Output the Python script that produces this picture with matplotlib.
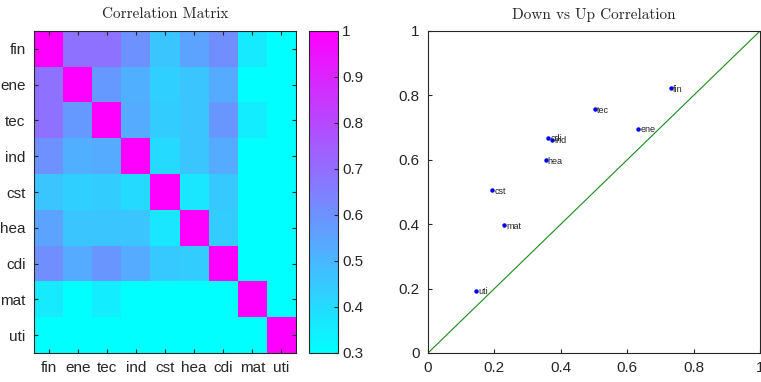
import numpy as np
import matplotlib
matplotlib.use("Agg")
import matplotlib.pyplot as plt
from matplotlib import font_manager

sectors = ["fin", "ene", "tec", "ind", "cst", "hea", "cdi", "mat", "uti"]

# pairwise correlation between sectors (symmetric)
corr = [
    [1.00, 0.69, 0.69, 0.60, 0.46, 0.55, 0.61, 0.36, 0.24],
    [0.69, 1.00, 0.58, 0.52, 0.43, 0.46, 0.53, 0.28, 0.22],
    [0.69, 0.58, 1.00, 0.53, 0.44, 0.46, 0.59, 0.35, 0.21],
    [0.60, 0.52, 0.53, 1.00, 0.40, 0.46, 0.53, 0.27, 0.20],
    [0.46, 0.43, 0.44, 0.40, 1.00, 0.37, 0.45, 0.25, 0.19],
    [0.55, 0.46, 0.46, 0.46, 0.37, 1.00, 0.44, 0.26, 0.18],
    [0.61, 0.53, 0.59, 0.53, 0.45, 0.44, 1.00, 0.27, 0.20],
    [0.36, 0.28, 0.35, 0.27, 0.25, 0.26, 0.27, 1.00, 0.23],
    [0.24, 0.22, 0.21, 0.20, 0.19, 0.18, 0.20, 0.23, 1.00],
]

# correlation in down markets vs up markets
down_corr = [0.731, 0.634, 0.504, 0.373, 0.193, 0.354, 0.362, 0.230, 0.144]
up_corr = [0.824, 0.697, 0.757, 0.663, 0.506, 0.599, 0.669, 0.397, 0.194]

cbar_ticks = [0.3, 0.4, 0.5, 0.6, 0.7, 0.8, 0.9, 1.0]
cbar_labels = ["0.3", "0.4", "0.5", "0.6", "0.7", "0.8", "0.9", "1"]
diag_ticks = [0, 0.2, 0.4, 0.6, 0.8, 1.0]
diag_labels = ["0", "0.2", "0.4", "0.6", "0.8", "1"]

available = {f.name for f in font_manager.fontManager.ttflist}
tick_font = "Liberation Sans Narrow" if "Liberation Sans Narrow" in available else "Liberation Sans"
title_font = "cmr10" if "cmr10" in available else "DejaVu Serif"

axcol = (0.15, 0.15, 0.15)
W, H = 761, 382
fig = plt.figure(figsize=(W / 100, H / 100), dpi=100)


def fig_rect(x0, y0, x1, y1):
    return [x0 / W, 1 - y1 / H, (x1 - x0) / W, (y1 - y0) / H]


def style_axes(ax):
    for sp in ax.spines.values():
        sp.set_color(axcol)
        sp.set_linewidth(0.8)
    ax.tick_params(direction="in", length=3, width=0.8, color=axcol,
                   labelsize=11, labelcolor="#262626")
    for lab in ax.get_xticklabels() + ax.get_yticklabels():
        lab.set_fontfamily(tick_font)


# heatmap
ax1 = fig.add_axes(fig_rect(34, 31, 296, 353))
im = ax1.imshow(np.array(corr), cmap="cool", vmin=0.3, vmax=1.0,
                aspect="auto", interpolation="nearest")
ax1.set_xticks(range(len(sectors)))
ax1.set_yticks(range(len(sectors)))
ax1.set_xticklabels(sectors)
ax1.set_yticklabels(sectors)
ax1.tick_params(top=True, right=True, labeltop=False, labelright=False, pad=6)
style_axes(ax1)
ax1.set_title("Correlation Matrix", fontfamily=title_font, fontsize=11,
              color="#262626", pad=9)

# colorbar
cax = fig.add_axes(fig_rect(309, 31, 338, 353))
cb = fig.colorbar(im, cax=cax)
cb.set_ticks(cbar_ticks)
cb.set_ticklabels(cbar_labels)
cb.outline.set_edgecolor(axcol)
cb.outline.set_linewidth(0.8)
cax.tick_params(direction="in", length=3, width=0.8, color=axcol,
                labelsize=11, labelcolor="#262626", pad=3)
for lab in cax.get_yticklabels():
    lab.set_fontfamily(tick_font)

# down vs up scatter
ax2 = fig.add_axes(fig_rect(428, 31, 760, 353))
ax2.plot([0, 1], [0, 1], color="#1a8a1a", linewidth=0.8)
ax2.plot(down_corr, up_corr, linestyle="none", marker="o", markersize=2.2,
         color="#0000ff")
for name, xv, yv in zip(sectors, down_corr, up_corr):
    ax2.annotate(name, (xv, yv), xytext=(1.5, -1), textcoords="offset points",
                 fontsize=6.5, color="#222222", va="center", ha="left",
                 fontfamily=tick_font)
ax2.set_xlim(0, 1)
ax2.set_ylim(0, 1)
ax2.set_xticks(diag_ticks)
ax2.set_yticks(diag_ticks)
ax2.set_xticklabels(diag_labels)
ax2.set_yticklabels(diag_labels)
ax2.tick_params(top=False, right=False, pad=6)
style_axes(ax2)
ax2.set_title("Down vs Up Correlation", fontfamily=title_font, fontsize=11,
              color="#262626", pad=9)

fig.savefig("out.png", dpi=100)
